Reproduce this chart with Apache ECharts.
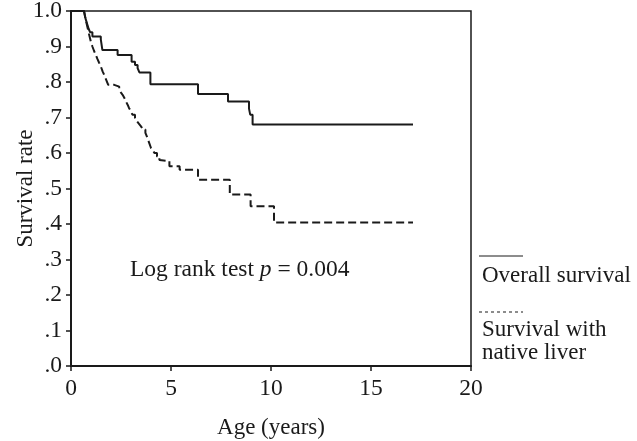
<!DOCTYPE html>
<html>
<head>
<meta charset="UTF-8">
<title>Survival rate</title>
<script src="https://cdn.jsdelivr.net/npm/echarts@6/dist/echarts.min.js"></script>
<style>
	* { margin: 0; padding: 0; }
	#main { width: 637px; height: 441px; background: #fff; }
</style>
</head>
<body>
<div id="main"></div>
<script>
	// tick labels
	var yTickLabels = ['.0', '.1', '.2', '.3', '.4', '.5', '.6', '.7', '.8', '.9', '1.0'];
	var xTickValues = [0, 5, 10, 15, 20];

	// [age, survival] at each event (step drawn at the event age)
	var overallSurvival = [
		[0, 1], [0.65, 1], [0.72, 0.98], [0.8, 0.965], [0.88, 0.95], [0.96, 0.94],
		[1.07, 0.928], [1.49, 0.92], [1.57, 0.89], [2.33, 0.876], [3.03, 0.857],
		[3.2, 0.848], [3.33, 0.839], [3.42, 0.827], [3.97, 0.794], [6.35, 0.766],
		[7.85, 0.745], [8.9, 0.725], [8.96, 0.708], [9.08, 0.68], [17.1, 0.68]
	];
	var nativeLiverSurvival = [
		[0, 1], [0.65, 1], [0.72, 0.98], [0.8, 0.96], [0.9, 0.935], [0.99, 0.914],
		[1.07, 0.9], [1.15, 0.888], [1.24, 0.876], [1.32, 0.865], [1.4, 0.855],
		[1.49, 0.844], [1.58, 0.83], [1.66, 0.82], [1.76, 0.806], [1.86, 0.792],
		[2.16, 0.787], [2.41, 0.778], [2.5, 0.77], [2.58, 0.764], [2.67, 0.755],
		[2.75, 0.745], [2.83, 0.736], [2.9, 0.727], [3.0, 0.717], [3.07, 0.708],
		[3.2, 0.698], [3.3, 0.689], [3.4, 0.682], [3.5, 0.675], [3.6, 0.666],
		[3.72, 0.657], [3.82, 0.643], [3.9, 0.63], [4.0, 0.614], [4.1, 0.607],
		[4.17, 0.6], [4.3, 0.59], [4.42, 0.58], [4.5, 0.577], [4.92, 0.563],
		[5.43, 0.553], [6.35, 0.525], [7.94, 0.483], [8.98, 0.45], [10.15, 0.404],
		[17.1, 0.404]
	];

	var serif = 'Liberation Serif';
	var ink = '#1a1a1a';

	var myChart = echarts.init(document.getElementById('main'));
	var option = {
		animation: false,
		backgroundColor: '#fff',
		grid: {
			left: 71, right: 166, top: 11, bottom: 75,
			outerBoundsMode: 'none',
			show: true,
			borderColor: ink,
			borderWidth: 1.5
		},
		xAxis: {
			type: 'value',
			min: 0, max: 20, interval: 5,
			name: 'Age (years)',
			nameLocation: 'middle',
			nameGap: 50,
			nameMoveOverlap: false,
			nameTextStyle: { fontFamily: serif, fontSize: 23, color: ink },
			axisLine: { lineStyle: { color: ink, width: 2 } },
			axisTick: { show: true, length: 5, lineStyle: { color: ink, width: 1.5 } },
			axisLabel: {
				margin: 11,
				fontFamily: serif, fontSize: 23.5, color: ink,
				formatter: function (v) { return xTickValues.indexOf(v) > -1 ? String(v) : ''; }
			},
			splitLine: { show: false }
		},
		yAxis: {
			type: 'value',
			min: 0, max: 1, interval: 0.1,
			name: 'Survival rate',
			nameLocation: 'middle',
			nameGap: 34,
			nameMoveOverlap: false,
			nameTextStyle: { fontFamily: serif, fontSize: 23, color: ink },
			axisLine: { show: true, lineStyle: { color: ink, width: 2 } },
			axisTick: { show: true, length: 5, lineStyle: { color: ink, width: 1.5 } },
			axisLabel: {
				margin: 9,
				fontFamily: serif, fontSize: 23.5, color: ink,
				formatter: function (v) { return yTickLabels[Math.round(v * 10)]; }
			},
			splitLine: { show: false }
		},
		series: [
			{
				name: 'Survival with native liver',
				type: 'line',
				step: 'end',
				symbol: 'none',
				data: nativeLiverSurvival,
				lineStyle: { color: ink, width: 2, type: [8, 4] }
			},
			{
				name: 'Overall survival',
				type: 'line',
				step: 'end',
				symbol: 'none',
				data: overallSurvival,
				lineStyle: { color: ink, width: 2 }
			}
		],
		graphic: [
			{
				type: 'text', left: 130, top: 258,
				style: {
					text: 'Log rank test {i|p} = 0.004',
					fontFamily: serif, fontSize: 23.5, fill: ink,
					rich: { i: { fontStyle: 'italic', fontFamily: serif, fontSize: 23.5 } }
				}
			},
			// legend, drawn as in the figure: line sample above its label
			{ type: 'line', shape: { x1: 479, y1: 256, x2: 523, y2: 256 }, style: { stroke: ink, lineWidth: 1 } },
			{ type: 'text', left: 482, top: 264, style: { text: 'Overall survival', fontFamily: serif, fontSize: 23, fill: ink } },
			{ type: 'line', shape: { x1: 479, y1: 312, x2: 523, y2: 312 }, style: { stroke: ink, lineWidth: 1, lineDash: [3, 3] } },
			{ type: 'text', left: 482, top: 318, style: { text: 'Survival with\nnative liver', fontFamily: serif, fontSize: 23, lineHeight: 23, fill: ink } }
		]
	};
	myChart.setOption(option);
</script>
</body>
</html>
